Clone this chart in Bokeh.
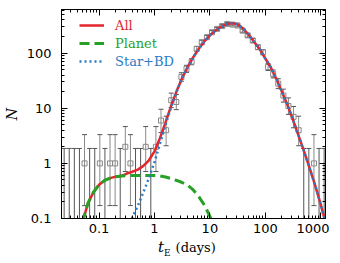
import numpy as np
from bokeh.plotting import figure
from bokeh.layouts import column
from bokeh.models import (LogAxis, FixedTicker, CustomJSTickFormatter, Whisker, TeeHead,
                          ColumnDataSource, Legend, LegendItem, Range1d, Div)
from bokeh.embed import file_html
from bokeh.resources import INLINE

# ---------------- data ----------------
# histogram bins: log10(tE / days) of bin centres and counts
bin_logt = [-1.63, -1.538, -1.446, -1.354, -1.262, -1.17, -1.078, -0.986, -0.894, -0.802,
            -0.71, -0.618, -0.526, -0.434, -0.342, -0.25, -0.158, -0.066, 0.026, 0.118,
            0.21, 0.302, 0.394, 0.486, 0.578, 0.67, 0.762, 0.854, 0.946, 1.038,
            1.13, 1.222, 1.314, 1.406, 1.498, 1.59, 1.682, 1.774, 1.866, 1.958,
            2.05, 2.142, 2.234, 2.326, 2.418, 2.51, 2.602, 2.694, 2.786, 2.878,
            2.97, 3.062]
counts = [0, 0, 0, 0, 1, 0, 0, 1, 0, 1,
          1, 0, 2, 1, 0, 0, 2, 0, 2, 6,
          4, 14, 13, 37, 52, 70, 120, 158, 195, 240,
          276, 310, 340, 330, 318, 256, 210, 170, 128, 104,
          56, 42, 28, 17, 11, 7, 4, 0, 0, 1,
          0, 0]

# model curves
planet_logt = [-1.3, -1.2, -1.1, -1.0, -0.9, -0.8, -0.7, -0.6, -0.5, -0.4, -0.3, -0.2,
               -0.1, 0.0, 0.1, 0.2, 0.3, 0.4, 0.5, 0.6, 0.7, 0.8, 0.9, 1.0, 1.1]
planet_N = [0.085, 0.19, 0.3, 0.41, 0.49, 0.54, 0.575, 0.59, 0.6, 0.6, 0.6, 0.6,
            0.6, 0.6, 0.59, 0.565, 0.53, 0.49, 0.45, 0.4, 0.33, 0.25, 0.175, 0.11, 0.065]

star_logt = [-0.5, -0.4, -0.3, -0.2, -0.1, 0.0, 0.1, 0.2, 0.3, 0.4, 0.5, 0.6, 0.7, 0.8,
             0.9, 1.0, 1.1, 1.2, 1.3, 1.4, 1.5, 1.6, 1.7, 1.8, 1.9, 2.0, 2.1, 2.2, 2.3,
             2.4, 2.5, 2.6, 2.7, 2.8, 2.9, 3.0, 3.1]
star_N = [0.055, 0.105, 0.17, 0.3, 0.54, 1.05, 2.3, 5.0, 10.5, 20, 35, 56, 84, 120,
          163, 210, 257, 302, 336, 350, 335, 280, 215, 160, 118, 80, 55, 34, 20,
          11.5, 6.2, 3.2, 1.65, 0.82, 0.4, 0.18, 0.075]

x_ticks = [0.1, 1, 10, 100, 1000]
y_ticks = [0.1, 1, 10, 100]

RED = "#e3262d"
GREEN = "#26a126"
BLUE = "#2a7cc4"

# ---------------- derived ----------------
N = np.array(counts, dtype=float)
t_bins = 10 ** np.array(bin_logt)
upper = N + 1 + np.sqrt(N + 0.75)
Nc = np.maximum(N, 1)
lower = np.where(N > 0, N * (1 - 1 / (9 * Nc) - 1 / (3 * np.sqrt(Nc))) ** 3, 1e-4)
nz = N > 0
src_nz = ColumnDataSource(dict(t=t_bins[nz], n=N[nz], up=upper[nz], lo=lower[nz]))
src_z = ColumnDataSource(dict(t=t_bins[~nz], up=upper[~nz], lo=lower[~nz]))

all_map = {}
for lt, v in zip(planet_logt, planet_N):
    all_map[round(lt, 2)] = all_map.get(round(lt, 2), 0) + v
for lt, v in zip(star_logt, star_N):
    all_map[round(lt, 2)] = all_map.get(round(lt, 2), 0) + v
all_logt = sorted(all_map)
all_N = [all_map[k] for k in all_logt]

# ---------------- figure ----------------
FH = 209
p = figure(frame_width=264, frame_height=FH, x_axis_type="log", y_axis_type="log",
           x_range=Range1d(0.021, 1220), y_range=Range1d(0.1, 620),
           output_backend="svg", toolbar_location=None,
           min_border_left=57, min_border_right=4, min_border_top=9, min_border_bottom=22)
p.xgrid.visible = False
p.ygrid.visible = False
p.outline_line_color = "black"
p.background_fill_color = "white"
p.border_fill_color = "white"

fmt = CustomJSTickFormatter(code="return tick.toString()")
blank = CustomJSTickFormatter(code="return ''")


def minors(ticks):
    return [m * d for d in [0.01] + ticks for m in range(2, 10)]


for ax, ticks in ((p.xaxis[0], x_ticks), (p.yaxis[0], y_ticks)):
    ax.ticker = FixedTicker(ticks=ticks, minor_ticks=minors(ticks))
    ax.formatter = fmt
    ax.major_tick_in = 6
    ax.major_tick_out = 0
    ax.minor_tick_in = 3
    ax.minor_tick_out = 0
    ax.major_label_text_font = "DejaVu Sans"
    ax.major_label_text_font_size = "13px"
    ax.major_label_text_color = "black"
    ax.axis_line_color = "black"
    ax.major_tick_line_color = "black"
    ax.minor_tick_line_color = "black"
p.xaxis[0].major_label_standoff = 5
p.yaxis[0].major_label_standoff = 10
p.yaxis[0].axis_label = "N"
p.yaxis[0].axis_label_text_font = "DejaVu Serif"
p.yaxis[0].axis_label_text_font_style = "italic"
p.yaxis[0].axis_label_text_font_size = "14px"
p.yaxis[0].axis_label_text_color = "black"
p.yaxis[0].axis_label_standoff = 4

for loc, ticks in (("above", x_ticks), ("right", y_ticks)):
    ax = LogAxis(ticker=FixedTicker(ticks=ticks, minor_ticks=minors(ticks)),
                 formatter=blank, major_tick_in=6, major_tick_out=0, minor_tick_in=3,
                 minor_tick_out=0, major_label_standoff=0, major_label_text_font_size="0px",
                 axis_line_color="black")
    p.add_layout(ax, loc)

# error bars
p.add_layout(Whisker(source=src_z, base="t", upper="up", lower="lo", dimension="height",
                     line_color="#555555", line_width=1,
                     upper_head=TeeHead(size=5, line_color="#555555", line_width=1),
                     lower_head=None))
p.add_layout(Whisker(source=src_nz, base="t", upper="up", lower="lo", dimension="height",
                     line_color="#8a8a8a", line_width=1,
                     upper_head=TeeHead(size=5, line_color="#555555", line_width=1),
                     lower_head=TeeHead(size=5, line_color="#555555", line_width=1)))
p.scatter("t", "n", source=src_nz, marker="square", size=5, fill_color=None,
          line_color="#888888", line_width=1)

# curves
r_all = p.line(10 ** np.array(all_logt), all_N, line_color=RED, line_width=2.5)
r_pl = p.line(10 ** np.array(planet_logt), planet_N, line_color=GREEN, line_width=3,
              line_dash="10 5")
r_st = p.line(10 ** np.array(star_logt), star_N, line_color=BLUE, line_width=2.5,
              line_dash="2 3")

# legends (one per entry so each label keeps its line colour)
for r, name, col, vy in ((r_all, "All", RED, 185), (r_pl, "Planet", GREEN, 167),
                         (r_st, "Star+BD", BLUE, 149)):
    lg = Legend(items=[LegendItem(label=name, renderers=[r])], location=(18, vy),
                glyph_width=25, glyph_height=16, label_height=16, label_standoff=11,
                padding=0, margin=0, spacing=0, border_line_color=None,
                background_fill_alpha=0, label_text_color=col,
                label_text_font="DejaVu Serif", label_text_font_size="13px")
    p.add_layout(lg)

# x-axis title as real HTML text below the plot
xlabel = Div(text=('<div style="padding-left:158px;font-family:\'DejaVu Serif\';'
                   'font-size:13px;line-height:14px;white-space:nowrap;color:black">'
                   '<i style="font-size:15px">t</i>'
                   '<sub style="font-size:9px;line-height:0">E</sub>'
                   '<span style="padding-left:5px">(days)</span></div>'),
             width=330, height=18, margin=0)

layout = column(p, xlabel, spacing=0)
open("out.html", "w").write(file_html(layout, INLINE))
